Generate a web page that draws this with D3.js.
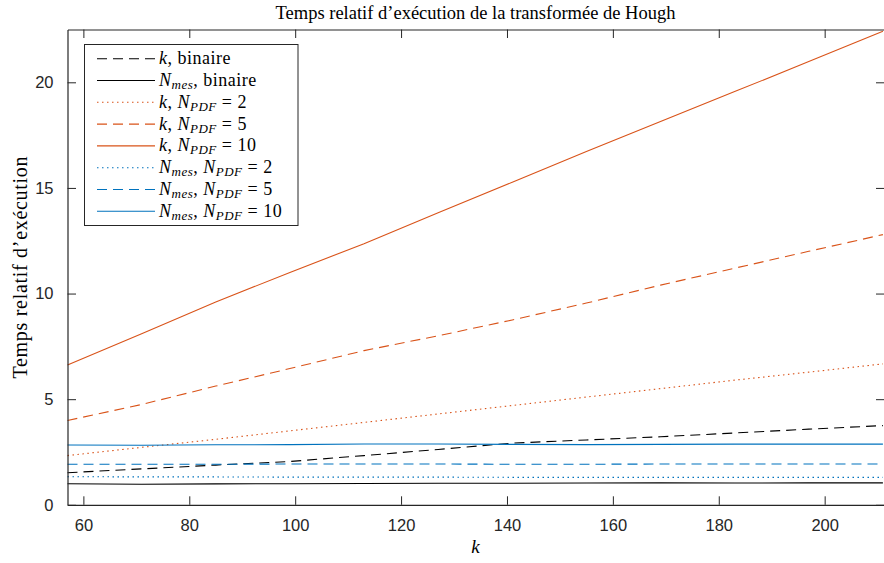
<!DOCTYPE html>
<html>
<head>
<meta charset="utf-8">
<script src="https://cdn.jsdelivr.net/npm/d3@7"></script>
<style>
  html, body { margin: 0; padding: 0; background: #fff; }
  svg { display: block; }
  .serif, .serif tspan { font-family: 'Liberation Serif', 'Times New Roman', serif; }
</style>
</head>
<body>
<svg id="chart" width="884" height="563"></svg>
<script>
// ---- Data ----
const kValues = [57, 71, 85, 99, 113, 127, 141, 155, 169, 183, 197, 211];

const kBinaire      = [1.52, 1.70, 1.88, 2.05, 2.33, 2.62, 2.92, 3.07, 3.22, 3.40, 3.58, 3.75];
const nmesBinaire   = [1.00, 0.97, 0.99, 1.00, 1.01, 1.02, 1.02, 1.03, 1.04, 1.03, 1.04, 1.04];
const kPdf2         = [2.33, 2.72, 3.10, 3.50, 3.90, 4.30, 4.70, 5.10, 5.50, 5.90, 6.28, 6.67];
const kPdf5         = [3.99, 4.75, 5.62, 6.45, 7.30, 8.00, 8.75, 9.55, 10.40, 11.20, 12.00, 12.79];
const kPdf10        = [6.62, 8.10, 9.60, 11.00, 12.36, 13.82, 15.27, 16.72, 18.15, 19.56, 20.98, 22.42];
const nmesPdf2      = [1.33, 1.32, 1.32, 1.31, 1.31, 1.31, 1.30, 1.30, 1.30, 1.30, 1.30, 1.30];
const nmesPdf5      = [1.92, 1.92, 1.92, 1.93, 1.93, 1.93, 1.92, 1.92, 1.93, 1.93, 1.93, 1.93];
const nmesPdf10     = [2.83, 2.82, 2.84, 2.85, 2.88, 2.88, 2.86, 2.85, 2.86, 2.87, 2.87, 2.87];

const xTicks = [60, 80, 100, 120, 140, 160, 180, 200];
const yTicks = [0, 5, 10, 15, 20];

const titleText = "Temps relatif d\u2019exécution de la transformée de Hough";
const yLabelText = "Temps relatif d\u2019exécution";
const xLabelText = "k";

const ORANGE = "#D95319", BLUE = "#0072BD", BLACK = "#000000";

const series = [
  { values: kBinaire,    color: BLACK,  dash: "10,6",    base: "k", sub: null,  pdf: null },
  { values: nmesBinaire, color: BLACK,  dash: null,      base: "N", sub: "mes", pdf: null },
  { values: kPdf2,       color: ORANGE, dash: "1.5,3.5", base: "k", sub: null,  pdf: "2" },
  { values: kPdf5,       color: ORANGE, dash: "10,6",    base: "k", sub: null,  pdf: "5" },
  { values: kPdf10,      color: ORANGE, dash: null,      base: "k", sub: null,  pdf: "10" },
  { values: nmesPdf2,    color: BLUE,   dash: "1.5,3.5", base: "N", sub: "mes", pdf: "2" },
  { values: nmesPdf5,    color: BLUE,   dash: "10,6",    base: "N", sub: "mes", pdf: "5" },
  { values: nmesPdf10,   color: BLUE,   dash: null,      base: "N", sub: "mes", pdf: "10" }
];

// ---- Layout ----
const svg = d3.select("#chart");
const pL = 67.5, pR = 884.5, pT = 29.5, pB = 504.8;
const x = d3.scaleLinear().domain([57, 211.3]).range([pL, pR]);
const y = d3.scaleLinear().domain([0, 22.5]).range([pB, pT]);
const AX = "#262626";
const SANS = "'Liberation Sans', Arial, Helvetica, sans-serif";

svg.append("rect").attr("x", pL).attr("y", pT)
  .attr("width", pR - pL).attr("height", pB - pT).attr("fill", "#fff");

const line = d3.line().x((d, i) => x(kValues[i])).y(d => y(d));
const gLines = svg.append("g");
series.forEach(s => {
  gLines.append("path").datum(s.values)
    .attr("d", line)
    .attr("fill", "none")
    .attr("stroke", s.color)
    .attr("stroke-width", 1.1)
    .attr("stroke-dasharray", s.dash);
});

const tickLen = 8.5;
const gBottom = svg.append("g").attr("transform", `translate(0,${pB})`)
  .call(d3.axisBottom(x).tickValues(xTicks).tickSize(-tickLen).tickPadding(14).tickSizeOuter(0));
const gTop = svg.append("g").attr("transform", `translate(0,${pT})`)
  .call(d3.axisTop(x).tickValues(xTicks).tickSize(-tickLen).tickFormat("").tickSizeOuter(0));
const gLeft = svg.append("g").attr("transform", `translate(${pL},0)`)
  .call(d3.axisLeft(y).tickValues(yTicks).tickSize(-tickLen).tickPadding(14).tickSizeOuter(0));
const gRight = svg.append("g").attr("transform", `translate(${pR},0)`)
  .call(d3.axisRight(y).tickValues(yTicks).tickSize(-tickLen).tickFormat("").tickSizeOuter(0));

[gBottom, gTop, gLeft, gRight].forEach(g => {
  g.select(".domain").attr("stroke", AX).attr("stroke-width", 1.2);
  g.selectAll(".tick line").attr("stroke", AX).attr("stroke-width", 1);
  g.selectAll(".tick text").attr("fill", AX)
    .style("font-family", SANS).style("font-size", "16.5px");
});

svg.append("text").attr("class", "serif")
  .attr("x", (pL + pR) / 2 - 0.5).attr("y", 19)
  .attr("text-anchor", "middle")
  .style("font-size", "18.5px")
  .attr("fill", "#000")
  .text(titleText);

svg.append("text").attr("class", "serif")
  .attr("x", (pL + pR) / 2 - 0.5).attr("y", 553)
  .attr("text-anchor", "middle")
  .style("font-size", "19px").style("font-style", "italic")
  .text(xLabelText);

svg.append("text").attr("class", "serif")
  .attr("transform", `translate(27,${(pT + pB) / 2}) rotate(-90)`)
  .attr("text-anchor", "middle")
  .style("font-size", "20px").style("letter-spacing", "0.7px")
  .text(yLabelText);

const lg = svg.append("g");
const lgX = 84.5, lgY = 44.5, lgW = 213.5, lgH = 181;
lg.append("rect").attr("x", lgX).attr("y", lgY).attr("width", lgW).attr("height", lgH)
  .attr("fill", "#fff").attr("stroke", AX).attr("stroke-width", 1);

const rowH = 21.8, row0 = 58.7;
series.forEach((s, i) => {
  const cy = row0 + i * rowH;
  lg.append("line").attr("x1", 97).attr("x2", 155).attr("y1", cy).attr("y2", cy)
    .attr("stroke", s.color).attr("stroke-width", 1.1).attr("stroke-dasharray", s.dash);
  const t = lg.append("text").attr("class", "serif").attr("x", 159).attr("y", cy + 5.5)
    .style("font-size", "18px")
    .style("letter-spacing", "0.5px").attr("fill", "#000");
  t.append("tspan").style("font-style", "italic").text(s.base);
  if (s.sub) {
    t.append("tspan").style("font-style", "italic").style("font-size", "13px")
      .attr("dy", 3).text(s.sub);
    t.append("tspan").attr("dy", -3).text(", ");
  } else {
    t.append("tspan").text(", ");
  }
  if (s.pdf === null) {
    t.append("tspan").text("binaire");
  } else {
    t.append("tspan").style("font-style", "italic").text("N");
    t.append("tspan").style("font-style", "italic").style("font-size", "13px")
      .attr("dy", 3).text("PDF");
    t.append("tspan").attr("dy", -3).text(" = " + s.pdf);
  }
});
</script>
</body>
</html>
